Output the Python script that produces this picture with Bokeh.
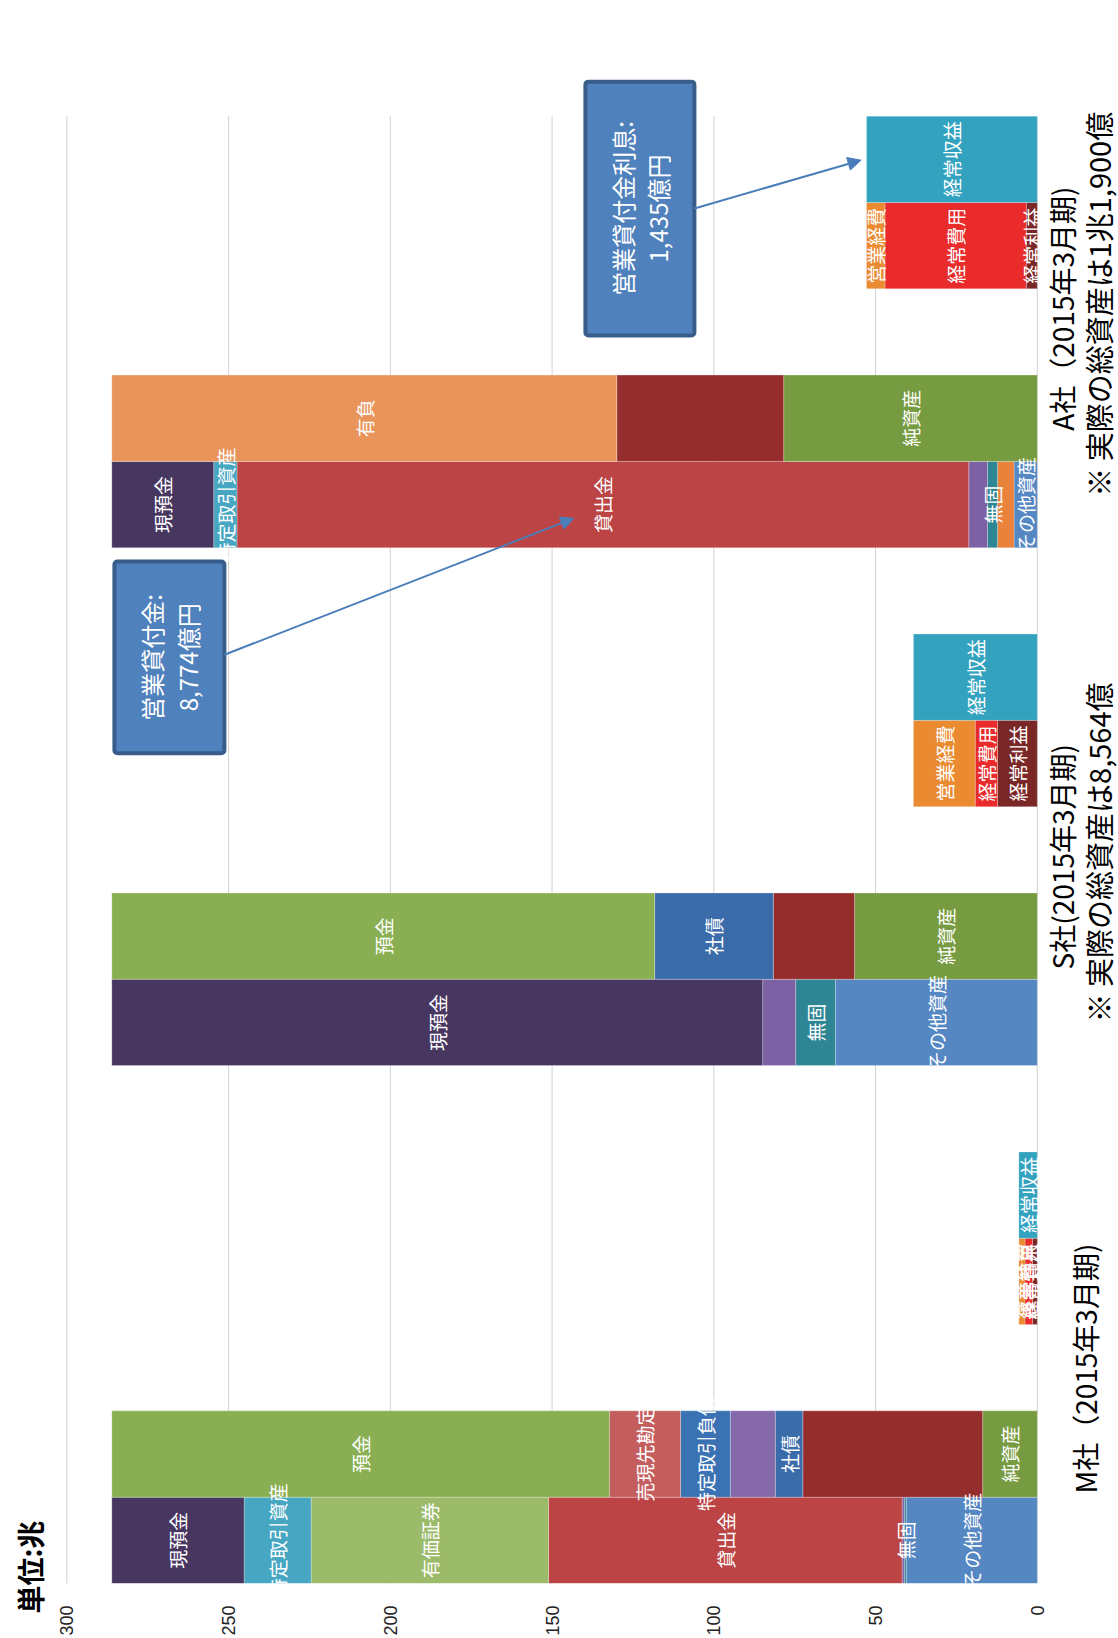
from math import pi
from bokeh.plotting import figure
from bokeh.models import Range1d, FixedTicker, ColumnDataSource, Label, Arrow, NormalHead, BoxAnnotation, Title
from bokeh.core.properties import value
from bokeh.embed import file_html
from bokeh.resources import INLINE

JP = "Noto Sans CJK JP"

# ---------------- data (trillion yen, as drawn) ----------------
companies = ["M社", "S社", "A社"]
period_labels = ["M社（2015年3月期)", "S社(2015年3月期)", "A社（2015年3月期)"]
note_labels = ["", "※ 実際の総資産は8,564億", "※ 実際の総資産は1兆1,900億"]
value_ticks = [0, 50, 100, 150, 200, 250, 300]
unit_label = "単位:兆"

# assets column (stack order from 0 upward)
a_other = [40.5, 62.4, 7.2]      # その他資産
a_misc = [0.0, 0.0, 5.1]         # (unlabelled)
a_intang = [0.6, 12.3, 3.1]      # 無固
a_fixed = [0.7, 10.2, 5.8]       # (unlabelled)
a_loans = [109.3, 0.0, 226.2]    # 貸出金
a_secur = [73.4, 0.0, 0.0]       # 有価証券
a_trade = [20.7, 0.0, 7.2]       # 特定取引資産
a_cash = [40.9, 201.2, 31.5]     # 現預金

# liabilities / net assets column
l_equity = [16.9, 56.5, 78.4]    # 純資産
l_other = [55.6, 25.1, 51.6]     # (unlabelled)
l_bonds = [8.5, 36.7, 0.0]       # 社債
l_misc = [13.9, 0.0, 0.0]        # (unlabelled)
l_trade = [15.4, 0.0, 0.0]       # 特定取引負債
l_repo = [22.0, 0.0, 0.0]        # 売現先勘定
l_deposit = [153.8, 167.8, 0.0]  # 預金
l_debt = [0.0, 0.0, 156.1]       # 有負

# P/L columns
pl_profit = [1.5, 12.3, 3.4]     # 経常利益
pl_expense = [2.3, 6.9, 43.7]    # 経常費用
pl_opex = [1.9, 19.1, 5.7]       # 営業経費
pl_revenue = [5.7, 38.3, 52.8]   # 経常収益

callouts = [("営業貸付金:", "8,774億円"), ("営業貸付金利息:", "1,435億円")]

# ---------------- layout of category slots ----------------
SLOTS_PER_GROUP = 6
TOTAL_SLOTS = 17
bars = [
    (0, [("その他資産", a_other, "#5587C2"), ("", a_misc, "#E9833B"), ("無固", a_intang, "#2E8594"),
         ("", a_fixed, "#7C61A4"), ("貸出金", a_loans, "#BC4444"), ("有価証券", a_secur, "#9CBB6A"),
         ("特定取引資産", a_trade, "#47A7C2"), ("現預金", a_cash, "#47365F")]),
    (1, [("純資産", l_equity, "#779B41"), ("", l_other, "#962D2D"), ("社債", l_bonds, "#3A6CAA"),
         ("", l_misc, "#8568A9"), ("特定取引負債", l_trade, "#3B72B4"), ("売現先勘定", l_repo, "#C45E5E"),
         ("預金", l_deposit, "#89AF52"), ("有負", l_debt, "#E8945A")]),
    (3, [("経常利益", pl_profit, "#7A2727"), ("経常費用", pl_expense, "#E92B2B"), ("営業経費", pl_opex, "#EA8A31")]),
    (4, [("経常収益", pl_revenue, "#32A2BF")]),
]

seg = dict(y=[], left=[], right=[], color=[])
lab = dict(x=[], y=[], text=[])
for gi in range(len(companies)):
    for slot, stack in bars:
        yc = gi * SLOTS_PER_GROUP + slot + 0.5
        base = 0.0
        for name, vals, col in stack:
            v = vals[gi]
            if v <= 0:
                continue
            seg["y"].append(yc)
            seg["left"].append(base)
            seg["right"].append(base + v)
            seg["color"].append(col)
            if name:
                lab["x"].append(base + v / 2)
                lab["y"].append(yc)
                lab["text"].append(name)
            base += v

# ---------------- figure ----------------
p = figure(width=1118, height=1638, output_backend="svg", toolbar_location=None,
           x_range=Range1d(303.2, -25.1), y_range=Range1d(0, 18.34),
           y_axis_location=None, min_border_left=56, min_border_right=0,
           min_border_top=0, min_border_bottom=48)
p.outline_line_color = None
p.xgrid.visible = False
p.ygrid.visible = False
p.background_fill_color = "white"
p.border_fill_color = "white"

# unit caption, in the left side panel
p.add_layout(Title(text=unit_label, align="left", offset=-30, standoff=14, text_font=JP,
                   text_font_size="28px", text_font_style="bold", text_color="black"), "left")

# gridlines over the plot area only
p.segment(x0=value_ticks, y0=[0] * len(value_ticks), x1=value_ticks, y1=[TOTAL_SLOTS] * len(value_ticks),
          line_color="#D2D2D2", line_width=1)

src = ColumnDataSource(seg)
p.hbar(y="y", left="left", right="right", height=1.0, fill_color="color",
       line_color="white", line_alpha=0.25, line_width=1, source=src)

p.text(x="x", y="y", text="text", source=ColumnDataSource(lab), angle=pi / 2,
       text_align="center", text_baseline="middle", text_color="white",
       text_font=value(JP), text_font_size="19px")

ax = p.xaxis[0]
ax.ticker = FixedTicker(ticks=value_ticks)
ax.major_label_orientation = pi / 2
ax.axis_line_color = None
ax.major_tick_line_color = None
ax.minor_tick_line_color = None
ax.major_label_standoff = 16
ax.major_label_text_font = "Liberation Sans"
ax.major_label_text_font_size = "18px"
ax.major_label_text_color = "#222222"

# category labels
group_label_y = [2.49, 8.42, 14.77]
for gi in range(len(companies)):
    if note_labels[gi]:
        p.add_layout(Label(x=-7.7, y=group_label_y[gi], text=period_labels[gi], angle=pi / 2,
                           text_align="center", text_baseline="middle", text_font=JP,
                           text_font_size="28px", text_color="black"))
        p.add_layout(Label(x=-18.9, y=group_label_y[gi] + 0.05, text=note_labels[gi], angle=pi / 2,
                           text_align="center", text_baseline="middle", text_font=JP,
                           text_font_size="29px", text_color="black"))
    else:
        p.add_layout(Label(x=-14.7, y=group_label_y[gi], text=period_labels[gi], angle=pi / 2,
                           text_align="center", text_baseline="middle", text_font=JP,
                           text_font_size="28px", text_color="black"))

# callout boxes with arrows
boxes = [dict(left=285.3, right=251.3, bottom=9.62, top=11.84, start=(251.3, 10.76), end=(143.3, 12.34)),
         dict(left=139.7, right=106.0, bottom=14.46, top=17.40, start=(106.0, 15.93), end=(54.5, 16.49))]
for (l1, l2), b in zip(callouts, boxes):
    p.add_layout(BoxAnnotation(left=b["left"], right=b["right"], bottom=b["bottom"], top=b["top"],
                               fill_color="#4F81BD", fill_alpha=1.0, line_color="#385D8A",
                               line_width=4, line_alpha=1.0, border_radius=3))
    cx = (b["left"] + b["right"]) / 2
    cy = (b["bottom"] + b["top"]) / 2
    p.add_layout(Label(x=cx + 5.5, y=cy, text=l1, angle=pi / 2, text_align="center",
                       text_baseline="middle", text_font=JP, text_font_size="24px", text_color="white"))
    p.add_layout(Label(x=cx - 5.5, y=cy, text=l2, angle=pi / 2, text_align="center",
                       text_baseline="middle", text_font=JP, text_font_size="24px", text_color="white"))
    p.add_layout(Arrow(end=NormalHead(size=13, fill_color="#4A7EBB", line_color="#4A7EBB"),
                       x_start=b["start"][0], y_start=b["start"][1], x_end=b["end"][0], y_end=b["end"][1],
                       line_color="#4A7EBB", line_width=2))

open("out.html", "w").write(file_html(p, INLINE))
